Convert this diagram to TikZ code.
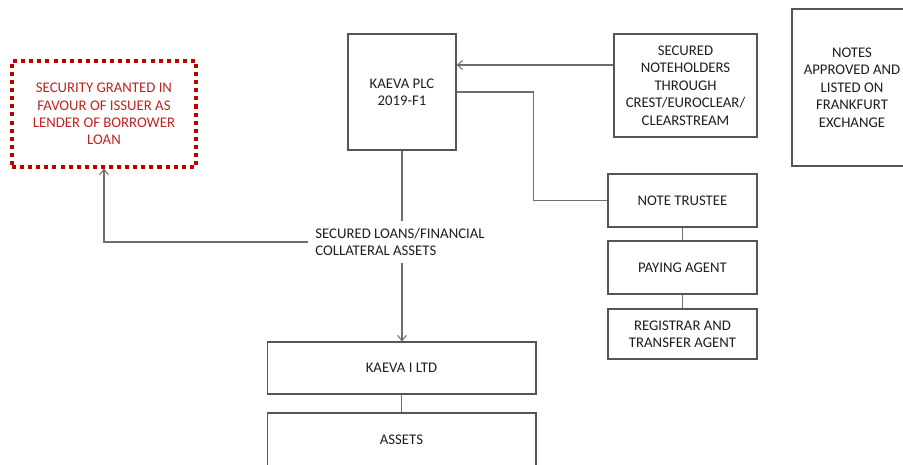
\documentclass[tikz,border=0pt]{standalone}
\usepackage{fontspec}
\setmainfont{Carlito}
\usetikzlibrary{arrows.meta, positioning}
\definecolor{boxgray}{RGB}{85,85,85}
\definecolor{linegray}{RGB}{110,110,110}
\definecolor{txtgray}{RGB}{30,30,30}
\definecolor{secred}{RGB}{192,0,0}
\definecolor{sectext}{RGB}{190,35,35}

\begin{document}
\begin{tikzpicture}[
        x=0.02cm, y=-0.02cm,
        font=\fontsize{8.4}{9.9}\selectfont,
        box/.style={rectangle, draw=boxgray, line width=0.6pt, align=center, text=txtgray, inner sep=2pt},
        redbox/.style={rectangle, draw=secred, line width=1.8pt, dash pattern=on 2.3pt off 2.3pt, align=center, text=sectext},
        line/.style={draw=linegray, line width=0.6pt},
        arrow/.style={line, -{Straight Barb[length=3pt, width=5pt]}}
    ]
        \useasboundingbox (0,0) rectangle (903,464);

        % Issuer and parties
        \node[box, minimum width=2.16cm, minimum height=2.32cm] (kplc) at (402,92) {KAEVA PLC\\2019-F1};
        \node[box, minimum width=2.86cm, minimum height=2.06cm] (holders) at (685.5,85.5) {SECURED\\NOTEHOLDERS\\THROUGH\\CREST/EUROCLEAR/\\CLEARSTREAM};
        \node[box, minimum width=2.4cm, minimum height=3.14cm] (listing) at (852,87.5) {NOTES\\APPROVED AND\\LISTED ON\\FRANKFURT\\EXCHANGE};
        \node[redbox, minimum width=3.68cm, minimum height=2.12cm] (security) at (104,114) {SECURITY GRANTED IN\\FAVOUR OF ISSUER AS\\LENDER OF BORROWER\\LOAN};

        % Agents
        \node[box, minimum width=2.98cm, minimum height=1.06cm] (trustee) at (682.5,200.5) {NOTE TRUSTEE};
        \node[box, minimum width=2.98cm, minimum height=1.06cm] (paying) at (682.5,267.5) {PAYING AGENT};
        \node[box, minimum width=2.98cm, minimum height=1.0cm] (registrar) at (682.5,334) {REGISTRAR AND\\TRANSFER AGENT};

        % Borrower side
        \node[align=left, text=txtgray, inner sep=0.14cm] (loans) at (400,242) {SECURED LOANS/FINANCIAL\\COLLATERAL ASSETS};
        \node[box, minimum width=5.38cm, minimum height=1.04cm] (kltd) at (401.5,368) {KAEVA I LTD};
        \node[box, minimum width=5.38cm, minimum height=1.08cm] (assets) at (401.5,440) {ASSETS};

        % Connectors
        \draw[arrow] ([yshift=0.41cm]holders.west) -- ([yshift=0.41cm]holders.west -| kplc.east);
        \draw[line] (kplc.east) -- ++(77,0) |- (trustee.west);
        \draw[line] (trustee) -- (paying);
        \draw[line] (paying) -- (registrar);
        \draw[line] (kplc.south) -- (kplc.south |- loans.north);
        \draw[arrow] (kplc.south |- loans.south) -- (kltd.north -| kplc.south);
        \draw[arrow] (loans.west) -| (security.south);
        \draw[line] (kltd) -- (assets);
    \end{tikzpicture}
\end{document}
